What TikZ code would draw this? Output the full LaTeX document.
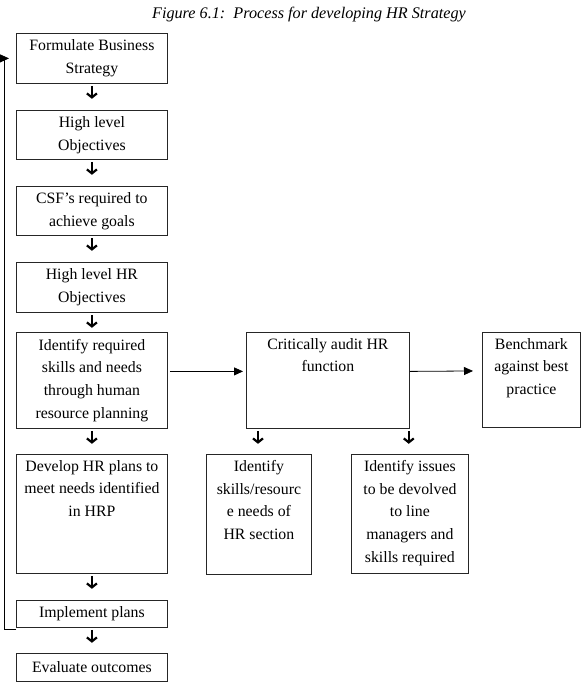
\documentclass[tikz,border=0pt]{standalone}
\usepackage{fontspec}
\setmainfont{Liberation Serif}
\usetikzlibrary{arrows.meta}
\begin{document}
\begin{tikzpicture}[x=1pt,y=-1pt,
  box/.style={draw=black!85, line width=0.8pt, inner sep=0pt, anchor=north west, minimum width=151pt, align=center,
    font=\fontsize{15.8}{22.7}\selectfont},
  txt/.style={inner sep=0pt, anchor=north, align=center, font=\fontsize{15.8}{22.7}\selectfont},
  darr/.style={line width=2.2pt, -{Straight Barb[length=4pt,width=10pt]}},
  harr/.style={line width=0.8pt, -{Triangle[length=9pt,width=8pt]}},
]
\useasboundingbox (0,0) rectangle (583,685);
\node[font=\fontsize{16.2}{18}\selectfont\itshape] (title) at (309,15) {Figure 6.1:\ \ Process for developing HR Strategy};

\node[box, minimum height=50pt] (b1) at (16,33) {Formulate Business\\Strategy};
\node[box, minimum height=49pt] (b2) at (16,110) {High level\\Objectives};
\node[box, minimum height=49pt] (b3) at (16,186) {CSF’s required to\\achieve goals};
\node[box, minimum height=50pt] (b4) at (16,262) {High level HR\\Objectives};
\node[box, minimum height=96pt] (b5) at (16,332) {Identify required\\skills and needs\\through human\\resource planning};
\node[box, minimum height=119pt] (b6) at (16,454) {};
\node[txt] (t6) at ([yshift=-6pt]b6.north) {Develop HR plans to\\meet needs identified\\in HRP};
\node[box, minimum height=27pt] (b7) at (16,600) {Implement plans};
\node[box, minimum height=28pt] (b8) at (16,653) {Evaluate outcomes};

\node[box, minimum width=163pt, minimum height=96pt] (c1) at (246,332) {};
\node[txt] (tc1) at ([yshift=-6pt]c1.north) {Critically audit HR\\function};
\node[box, minimum width=98pt, minimum height=95pt] (d1) at (482,332) {};
\node[txt] (td1) at ([yshift=-6pt]d1.north) {Benchmark\\against best\\practice};
\node[box, minimum width=105pt, minimum height=120pt] (e1) at (206,454) {};
\node[txt] (te1) at ([yshift=-6pt]e1.north) {Identify\\skills/resourc\\e needs of\\HR section};
\node[box, minimum width=117pt, minimum height=119pt] (e2) at (351,454) {};
\node[txt] (te2) at ([yshift=-6pt]e2.north) {Identify issues\\to be devolved\\to line\\managers and\\skills required};

\foreach \n in {b1,b2,b3,b4,b5,b6,b7}
  \draw[darr] ([yshift=-2pt]\n.south) -- ++(0,13);
\draw[darr] ([xshift=12pt,yshift=-2pt]c1.south west) -- ++(0,13);
\draw[darr] ([xshift=-1pt,yshift=-2pt]c1.south east) -- ++(0,13);

\draw[harr, shorten <=2pt, shorten >=3pt] ([yshift=9pt]b5.east) -- ([yshift=9pt]c1.west);
\draw[harr, shorten >=9pt] ([yshift=9pt]c1.east) -- ([yshift=9pt]d1.west);

\draw[harr] ([yshift=-2pt]b7.south west) -- ++(-12,0) |- ([xshift=-7pt]b1.west);
\end{tikzpicture}
\end{document}
